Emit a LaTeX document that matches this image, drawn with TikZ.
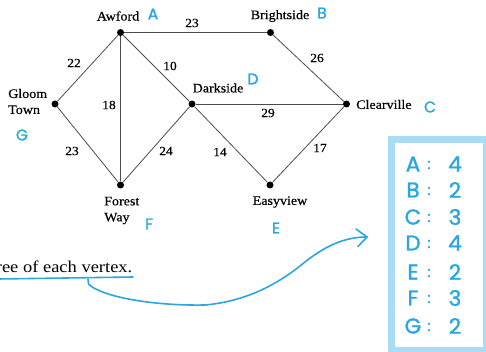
\documentclass[tikz,border=0pt]{standalone}
\usepackage{fontspec}
\setmainfont{Liberation Serif}[FakeStretch=1.08,FakeBold=0.4]
\newfontfamily\sentfont{Liberation Serif}[FakeStretch=1.12]
\newfontfamily\handfont{Poppins}[FakeBold=1.5]
\begin{document}
\begin{tikzpicture}[x=1pt,y=-1pt,
  vtx/.style={circle,fill=black,inner sep=0pt,minimum size=7pt},
  edge/.style={draw=black!70,line width=0.8pt},
  wlabel/.style={font=\fontsize{12.5}{13}\selectfont,inner sep=0pt},
  city/.style={font=\fontsize{13}{16}\selectfont,inner sep=0pt,align=left},
  hand/.style={text=handblue,font=\handfont\fontsize{15.5}{16}\selectfont,inner sep=0pt},
  boxtxt/.style={text=handblue,font=\handfont\fontsize{21.5}{22}\selectfont,inner sep=0pt},
  boxcol/.style={text=handblue,font=\handfont\fontsize{15}{16}\selectfont,inner sep=0pt},
  pen/.style={draw=handblue,line width=1.6pt,line cap=round,line join=round}]
\definecolor{handblue}{HTML}{2AA6E0}
\definecolor{boxblue}{HTML}{A8DDF6}
\useasboundingbox (0,0) rectangle (486,352);
% vertices
\node[vtx] (A) at (120.5,32.5) {};
\node[vtx] (B) at (270.5,32.5) {};
\node[vtx] (C) at (346.5,104) {};
\node[vtx] (D) at (192,104) {};
\node[vtx] (E) at (270,185) {};
\node[vtx] (F) at (120.5,185) {};
\node[vtx] (G) at (55,104) {};
% edges
\draw[edge] (A) -- (B);
\draw[edge] (A) -- (G);
\draw[edge] (A) -- (F);
\draw[edge] (A) -- (D);
\draw[edge] (B) -- (C);
\draw[edge] (D) -- (C);
\draw[edge] (D) -- (E);
\draw[edge] (D) -- (F);
\draw[edge] (G) -- (F);
\draw[edge] (E) -- (C);
% weights
\node[wlabel] (wAB) at (192,23) {23};
\node[wlabel] (wAG) at (74,63) {22};
\node[wlabel] (wAD) at (170,66) {10};
\node[wlabel] (wAF) at (109,105) {18};
\node[wlabel] (wGF) at (72,151) {23};
\node[wlabel] (wDF) at (166,151) {24};
\node[wlabel] (wDE) at (220,152) {14};
\node[wlabel] (wDC) at (268,113) {29};
\node[wlabel] (wBC) at (317,58) {26};
\node[wlabel] (wEC) at (320,148) {17};
% city names
\node[city] (nA) at (118,16) {Awford};
\node[city] (nB) at (280,16) {Brightside};
\node[city] (nD) at (218,88) {Darkside};
\node[city,anchor=west] (nC) at (356,104.5) {Clearville};
\node[city,anchor=west] (nG) at (8,101.5) {Gloom\\Town};
\node[city,anchor=west] (nF) at (104,210.5) {Forest\\Way};
\node[city] (nE) at (280,202) {Easyview};
% hand letters
\node[hand] (hA) at (153,14) {A};
\node[hand] (hB) at (322,13) {B};
\node[hand] (hC) at (430,107) {C};
\node[hand] (hD) at (253,79) {D};
\node[hand] (hE) at (276,228) {E};
\node[hand] (hF) at (149,224) {F};
\node[hand] (hG) at (22,135) {G};
% sentence
\node[font=\sentfont\fontsize{16.5}{18}\selectfont,inner sep=0pt,anchor=base east] (sent) at (132.5,272) {ree of each vertex.};
\coordinate (u1) at (-2,279);
\coordinate (u2) at (133,277);
\draw[pen] (u1) -- (u2);
\coordinate (c0) at (88,279);
\coordinate (c1) at (88.5,284);
\coordinate (c2) at (205,305);
\coordinate (c3) at (305,262);
\coordinate (tip) at (367,237);
\draw[pen] (c0) -- (c1) .. controls (100,296) and (150,306) .. (c2)
  .. controls (250,301) and (282,281) .. (c3)
  .. controls (330,242) and (350,237) .. (tip);
\draw[pen] (356,229) -- (tip) -- (358,246.5);
% box
\fill[boxblue] (388,136) rectangle (486,352);
\fill[white] (395,143) rectangle (483,347);
\foreach \L/\n/\y in {A/4/164,B/2/190,C/3/217,D/4/243,E/2/272,F/3/298,G/2/326}{
  \node[boxtxt] (k\L) at (413,\y) {\L};
  \node[boxcol] (c\L) at (429,\y+1) {:};
  \node[boxtxt] (v\L) at (455,\y) {\n};
}
\end{tikzpicture}
\end{document}
